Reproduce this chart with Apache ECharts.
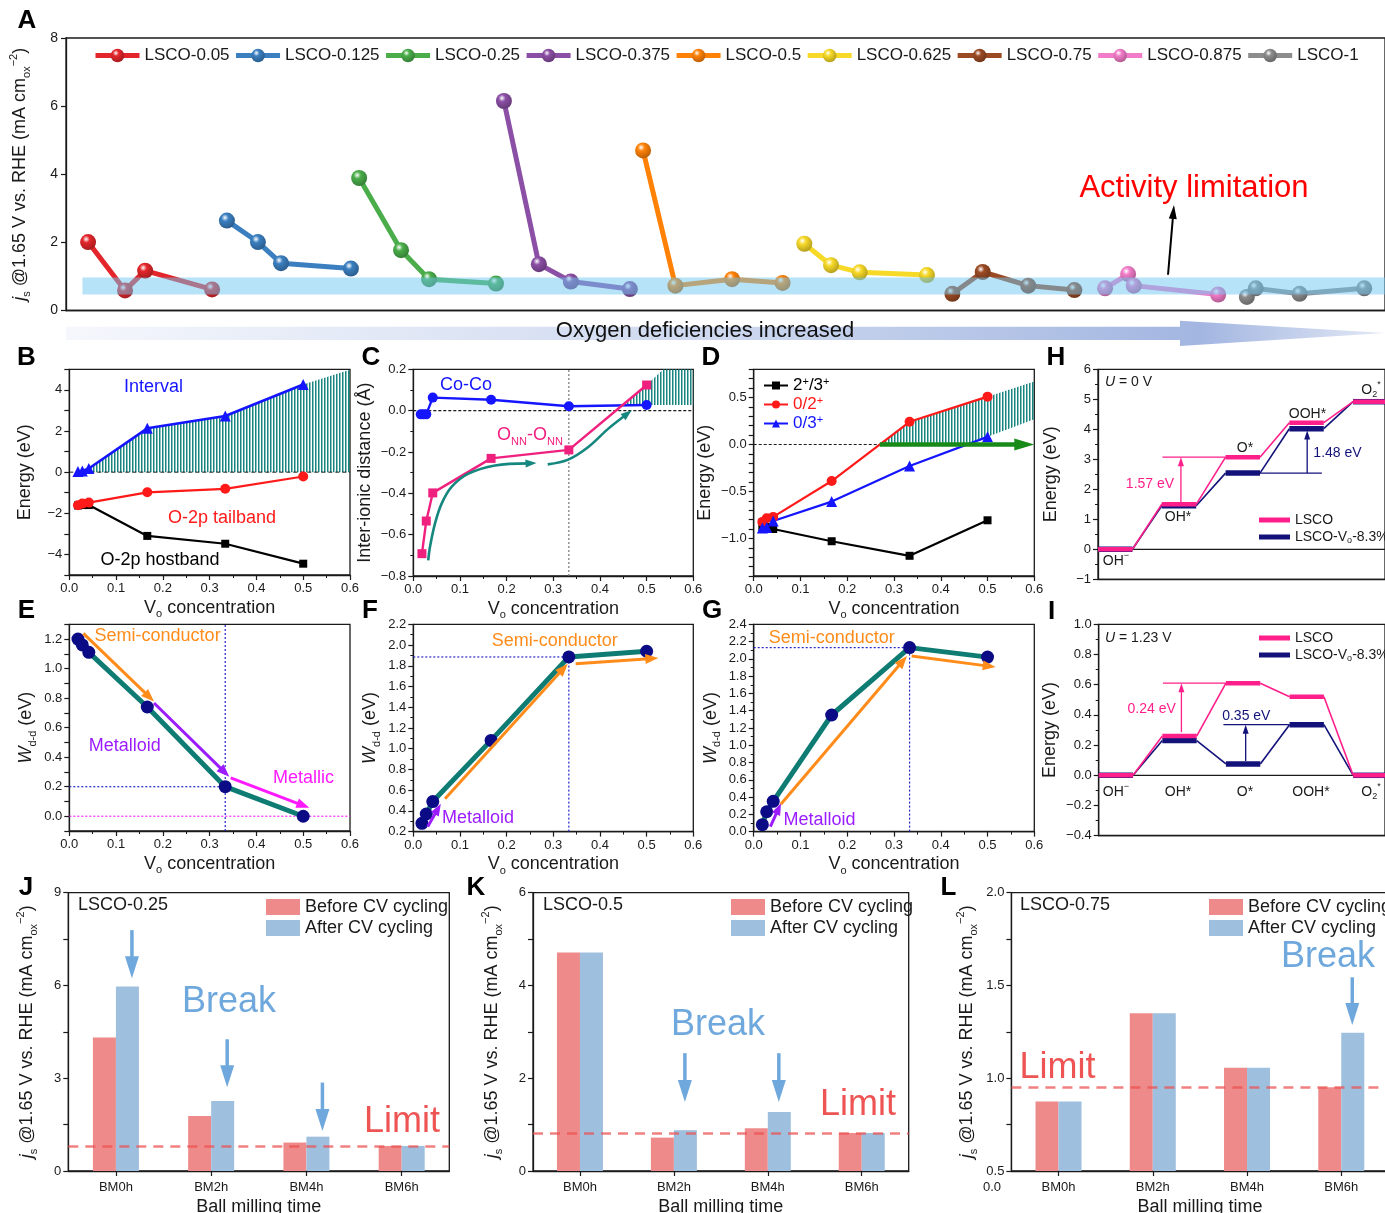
<!DOCTYPE html>
<html><head><meta charset="utf-8">
<script src="https://cdn.jsdelivr.net/npm/echarts@6/dist/echarts.min.js"></script>
<style>html,body{margin:0;padding:0;background:#fff}#c{width:1385px;height:1213px}</style>
</head><body><div id="c"></div>
<script>
const FONT = '"Liberation Sans", Arial, Helvetica, sans-serif';
const INK = '#1a1a1a';

// ================= DATA =================
// Panel A
const aNames = ['LSCO-0.05','LSCO-0.125','LSCO-0.25','LSCO-0.375','LSCO-0.5','LSCO-0.625','LSCO-0.75','LSCO-0.875','LSCO-1'];
const aColors = ['#e3262b','#3b7fc0','#4aad4a','#8b4fa5','#ff8207','#f7d928','#9c4a24','#f27cc8','#8c8c8c'];
const aX = [[0.67,1.79,2.40,4.43],[4.88,5.82,6.52,8.64],[8.89,10.16,11.01,13.04],[13.28,14.34,15.31,17.10],[17.50,18.48,20.20,21.73],[22.39,23.20,24.07,26.11],[26.88,27.80,29.18,30.58],[31.51,32.21,32.38,34.94],[35.81,36.08,37.41,39.37]];
const aY = [[2.01,0.59,1.17,0.62],[2.64,2.01,1.39,1.23],[3.89,1.77,0.92,0.79],[6.15,1.36,0.85,0.63],[4.70,0.73,0.92,0.81],[1.96,1.33,1.12,1.04],[0.49,1.13,0.73,0.60],[0.65,1.07,0.73,0.47],[0.40,0.65,0.49,0.65]];
const aBand = [[0.5, 0.47, 40, 0.97]];
const aLimitArrow = [[33.42, 1.05, 33.6, 3.1]];

// Panels B-G : oxygen vacancy concentration
const vo = [0.0185, 0.0278, 0.0417, 0.1667, 0.3333, 0.5];
const bInterval = [0.03, 0.06, 0.18, 2.13, 2.73, 4.26];
const bTail = [-1.61, -1.53, -1.48, -0.98, -0.81, -0.21];
const bHost = [-1.62, -1.60, -1.60, -3.10, -3.48, -4.45];
const bHatch = [[0.03,0],[0.03,0.05],[0.0417,0.18],[0.1667,2.13],[0.3333,2.73],[0.5,4.26],[0.6,4.98],[0.6,0]];
const bZero = [[0,0,0.6,0]];

const cCoX = [0.016, 0.022, 0.0278, 0.0417, 0.1667, 0.3333, 0.5];
const cCo = [-0.018, -0.018, -0.018, 0.063, 0.053, 0.021, 0.027];
const cOO = [-0.692, -0.534, -0.398, -0.231, -0.19, 0.124];
const cHatch = [[0.4485,0.027],[0.5,0.124],[0.536,0.2],[0.6,0.2],[0.6,0.027]];
const cCurve1 = [[0.032,-0.724],[0.0357,-0.66],[0.0464,-0.547],[0.0607,-0.45],[0.082,-0.369],[0.118,-0.305],[0.175,-0.265],[0.264,-0.253]];
const cCurve2 = [[0.288,-0.26],[0.332,-0.237],[0.375,-0.176],[0.418,-0.087],[0.468,0.002]];
const cZero = [[0,0,0.6,0]];
const cVline = [[0.3333,-0.8,0.3333,0.2]];

const d23 = [-0.88, -0.88, -0.90, -1.03, -1.185, -0.807];
const d02 = [-0.824, -0.785, -0.771, -0.389, 0.241, 0.509];
const d03 = [-0.89, -0.885, -0.814, -0.608, -0.23, 0.081];
const dHatch = [[0.2696,0],[0.3333,0.241],[0.5,0.509],[0.6,0.67],[0.6,0.268],[0.5,0.081],[0.4566,0]];
const dZero = [[0,0,0.2696,0]];
const dArrow = [[0.2696,0,0.6,0]];

const eW = [1.20, 1.16, 1.11, 0.74, 0.20, 0.00];
const eArrowOrange = [[0.030,1.238,0.181,0.777]];
const eArrowPurple = [[0.181,0.767,0.342,0.267]];
const eArrowMagenta = [[0.345,0.26,0.513,0.057]];
const eNavyDots = [[0.3333,-0.1,0.3333,1.3],[0,0.2,0.3333,0.2]];
const eMagentaDots = [[0,0,0.6,0]];

const fW = [0.28, 0.37, 0.49, 1.08, 1.885, 1.94];
const fArrowPurple = [[0.031,0.248,0.059,0.468]];
const fArrowOrange = [[0.068,0.516,0.331,1.819],[0.348,1.819,0.525,1.874]];
const fNavyDots = [[0,1.885,0.3333,1.885],[0.3333,0.2,0.3333,1.885]];

const gW = [0.08, 0.23, 0.35, 1.35, 2.13, 2.02];
const gArrowPurple = [[0.0356,0.058,0.0584,0.329]];
const gArrowOrange = [[0.058,0.317,0.3278,2.032],[0.3378,2.032,0.5174,1.905]];
const gNavyDots = [[0,2.13,0.3333,2.13],[0.3333,0,0.3333,2.13]];

// Panels H, I : free energy diagrams (steps OH-, OH*, O*, OOH*, O2*)
const hLSCO = [0, 1.50, 3.07, 4.22, 4.92];
const hVo   = [0, 1.45, 2.54, 4.02, 4.92];
const iLSCO = [0, 0.26, 0.61, 0.52, 0];
const iVo   = [0, 0.23, 0.075, 0.335, 0];
const hPinkLine = [[1.01,3.07,2.0,3.07]];
const hPinkArrow = [[1.30,1.55,1.30,3.07]];
const hNavyLine = [[2.54,2.54,3.51,2.54]];
const hNavyArrow = [[3.28,2.54,3.28,3.96]];
const iPinkLine = [[1.01,0.61,2.0,0.61]];
const iPinkArrow = [[1.30,0.285,1.30,0.61]];
const iNavyLine = [[1.96,0.335,3.0,0.335]];
const iNavyArrow = [[2.31,0.095,2.31,0.335]];
const stepZero = [[0.54,0,4.5,0]];

// Panels J, K, L : bars
const bmCats = ['BM0h','BM2h','BM4h','BM6h'];
const jBefore = [4.32, 1.78, 0.92, 0.81];
const jAfter  = [5.97, 2.26, 1.11, 0.81];
const jLimit = 0.81;
const jBreak = [['BM0h',7.79,6.23],['BM2h',4.26,2.71],['BM4h',2.86,1.29]];
const kBefore = [4.71, 0.72, 0.92, 0.82];
const kAfter  = [4.71, 0.88, 1.27, 0.82];
const kLimit = 0.82;
const kBreak = [['BM2h',2.54,1.49],['BM4h',2.54,1.49]];
const lBefore = [0.874, 1.35, 1.057, 0.951];
const lAfter  = [0.874, 1.35, 1.057, 1.245];
const lLimit = 0.95;
const lBreak = [['BM6h',1.544,1.287]];

// ================= HELPERS =================
const grids = [], xAxes = [], yAxes = [], series = [], graphics = [], legends = [];
const G = {};
function rich(fs){
  const s = Math.round(fs*0.62);
  return {
    i:{fontStyle:'italic', fontSize:fs, fontFamily:FONT},
    sub:{fontSize:s, fontFamily:FONT, verticalAlign:'bottom', lineHeight:s+1},
    sup:{fontSize:s, fontFamily:FONT, verticalAlign:'top', lineHeight:s+1}
  };
}
function fmt(dec, step){
  return function(v){
    if (step && Math.abs(v/step - Math.round(v/step)) > 1e-6) return '';
    const r = Math.abs(v) < 1e-9 ? 0 : v;
    return (r < 0 ? '\u2212' : '') + Math.abs(r).toFixed(dec);
  };
}
function addGrid(key, left, top, width, height){
  grids.push({left, top, width, height, show:true, borderColor:INK, borderWidth:1.3,
    backgroundColor:'rgba(0,0,0,0)', containLabel:false, outerBoundsMode:'none'});
  G[key] = grids.length - 1;
}
function mkAxis(gi, o, dir){
  const nfs = o.nfs || 18;
  const a = {
    gridIndex:gi, type:o.type || 'value', position: dir === 'x' ? 'bottom' : 'left',
    axisLine:{show:true, onZero:false, lineStyle:{color:INK, width:1.3}},
    axisTick:{show:o.tick !== false, inside:false, length:5, alignWithLabel:true, lineStyle:{color:INK, width:1.2}},
    minorTick:{show:!!o.minor, splitNumber:o.minor || 2, length:3, lineStyle:{color:INK, width:1}},
    splitLine:{show:false}, minorSplitLine:{show:false},
    axisLabel:{show:o.label !== false, color:INK, fontSize:o.fs || 13, fontFamily:FONT, margin:o.margin || 6,
      hideOverlap:false, showMinLabel:true, showMaxLabel:true},
    name:o.name || '', nameLocation:'middle', nameGap:o.gap || 20,
    nameTextStyle:{fontSize:nfs, fontFamily:FONT, color:INK, lineHeight:24, rich:rich(nfs)}
  };
  if (o.fmt) a.axisLabel.formatter = o.fmt;
  if (o.type === 'category') { a.data = o.data; a.boundaryGap = true; }
  else { a.min = o.min; a.max = o.max; if (o.interval) a.interval = o.interval; }
  return a;
}
function addAxes(gi, xo, yo){ xAxes.push(mkAxis(gi, xo, 'x')); yAxes.push(mkAxis(gi, yo, 'y')); }
function voAxis(){ return {min:0, max:0.6, interval:0.1, fmt:fmt(1), minor:2, name:'V{sub|o} concentration', gap:20, margin:7}; }

function arrowShape(p1, p2, st){
  const dx = p2[0]-p1[0], dy = p2[1]-p1[1], L = Math.hypot(dx, dy) || 1, ux = dx/L, uy = dy/L;
  const hl = st.head || 0, hw = st.headW || hl*0.7;
  const e = hl ? [p2[0]-ux*hl*0.7, p2[1]-uy*hl*0.7] : p2;
  const ch = [{type:'line', shape:{x1:p1[0], y1:p1[1], x2:e[0], y2:e[1]},
    style:{stroke:st.color, lineWidth:st.width, lineDash:st.dash, lineCap:'butt', fill:null}}];
  if (hl) {
    const bx = p2[0]-ux*hl, by = p2[1]-uy*hl;
    ch.push({type:'polygon', shape:{points:[[p2[0],p2[1]],[bx-uy*hw/2, by+ux*hw/2],[bx+uy*hw/2, by-ux*hw/2]]},
      style:{fill:st.color, stroke:null}});
  }
  return ch;
}
function segSeries(gi, segs, st){
  return {type:'custom', xAxisIndex:gi, yAxisIndex:gi, z:st.z || 5, silent:true, data:segs,
    renderItem:(p, api) => {
      const p1 = api.coord([api.value(0), api.value(1)]), p2 = api.coord([api.value(2), api.value(3)]);
      return {type:'group', children:arrowShape(p1, p2, st)};
    }};
}
function catArrowSeries(gi, arr, offset, st){
  return {type:'custom', xAxisIndex:gi, yAxisIndex:gi, z:6, silent:true, data:arr,
    renderItem:(p, api) => {
      const a = api.coord([api.value(0), api.value(1)]), b = api.coord([api.value(0), api.value(2)]);
      a[0] += offset; b[0] += offset;
      return {type:'group', children:arrowShape(a, b, st)};
    }};
}
function curveSeries(gi, pts, st){
  return {type:'custom', xAxisIndex:gi, yAxisIndex:gi, z:5, silent:true, data:[pts[0]],
    renderItem:(p, api) => {
      const P = pts.map(q => api.coord(q)); const n = P.length;
      const last = P[n-1], prev = P[n-2];
      const dx = last[0]-prev[0], dy = last[1]-prev[1], L = Math.hypot(dx, dy) || 1, ux = dx/L, uy = dy/L;
      const hl = st.head, hw = st.headW;
      const e = [last[0]-ux*hl*0.7, last[1]-uy*hl*0.7];
      const bx = last[0]-ux*hl, by = last[1]-uy*hl;
      return {type:'group', children:[
        {type:'polyline', shape:{points:P.slice(0, n-1).concat([e]), smooth:0.35}, style:{stroke:st.color, lineWidth:st.width, fill:null}},
        {type:'polygon', shape:{points:[last,[bx-uy*hw/2, by+ux*hw/2],[bx+uy*hw/2, by-ux*hw/2]]}, style:{fill:st.color}}
      ]};
    }};
}
function polySeries(gi, pts, fill, z){
  return {type:'custom', xAxisIndex:gi, yAxisIndex:gi, z:z || 1, silent:true, data:[pts[0]],
    renderItem:(p, api) => ({type:'polygon', shape:{points:pts.map(q => api.coord(q))}, style:{fill}})};
}
function lineS(gi, name, xs, ys, color, symbol, size, width, z, symColor){
  return {type:'line', name, xAxisIndex:gi, yAxisIndex:gi, z:z || 3, silent:true,
    data:xs.map((x, i) => [x, ys[i]]), symbol, symbolSize:size, showSymbol:true,
    lineStyle:{color, width}, itemStyle:{color:symColor || color}};
}
const LEVEL_W = 0.54, STEP_XMAX = 4.5;
function stepSeries(gi, name, levels, color, thick, z){
  return {type:'custom', name, xAxisIndex:gi, yAxisIndex:gi, z, silent:true, itemStyle:{color},
    data:levels.map((v, i) => [i, v]),
    renderItem:(p, api) => {
      const i = api.value(0), v = api.value(1);
      const a = api.coord([i, v]), b = api.coord([Math.min(i + LEVEL_W, STEP_XMAX), v]);
      const ch = [{type:'line', shape:{x1:a[0], y1:a[1], x2:b[0], y2:b[1]}, style:{stroke:color, lineWidth:thick, lineCap:'butt'}}];
      if (i < levels.length - 1) {
        const c = api.coord([i + 1, levels[i + 1]]);
        ch.push({type:'line', shape:{x1:b[0], y1:b[1], x2:c[0], y2:c[1]}, style:{stroke:color, lineWidth:1.6}});
      }
      return {type:'group', children:ch};
    }};
}
function shade(hex, f){
  const n = parseInt(hex.slice(1), 16);
  return 'rgb(' + Math.round((n>>16)*f) + ',' + Math.round(((n>>8)&255)*f) + ',' + Math.round((n&255)*f) + ')';
}
function ball(c){
  return {type:'radial', x:0.38, y:0.32, r:0.75,
    colorStops:[{offset:0, color:'#ffffff'},{offset:0.3, color:c},{offset:1, color:shade(c, 0.7)}]};
}
function T(x, y, text, fs, color, extra){
  graphics.push({type:'text', x, y, z:100, silent:true,
    style:Object.assign({text, fontSize:fs, fontFamily:FONT, fill:color || INK, align:'center',
      verticalAlign:'middle', lineHeight:Math.round(fs*1.35), rich:rich(fs)}, extra || {})});
}
const HATCH = (function(){
  const c = document.createElement('canvas'); c.width = 3; c.height = 4;
  const g = c.getContext('2d'); g.fillStyle = 'rgba(12,128,120,0.95)'; g.fillRect(0, 0, 1.5, 4);
  return {image:c, repeat:'repeat'};
})();

const BLUE = '#1515ff', RED = '#ff1a1a', MAG = '#f0207f', TEAL = '#0f7c74', NAVY = '#0b0b86';
const ORANGE = '#ff8c1a', PURPLE = '#9b1dff', PINKM = '#ff19ff', PINK = '#ff1f8a', DNAVY = '#12127a';

// ================= PANEL A =================
addGrid('A', 66, 38, 1319, 272.5);
addAxes(G.A, {min:0, max:40, tick:false, label:false},
  {min:0, max:8, interval:2, fs:14, fmt:fmt(0), margin:8,
   name:'{i|j}{sub|s} @1.65 V vs. RHE (mA cm{sub|ox}{sup|\u22122})', gap:34});
aNames.forEach((n, k) => {
  series.push({type:'line', name:n, xAxisIndex:G.A, yAxisIndex:G.A, z:3, silent:true,
    data:aX[k].map((x, i) => [x, aY[k][i]]), symbol:'circle', symbolSize:16,
    lineStyle:{color:aColors[k], width:5}, itemStyle:{color:ball(aColors[k])}});
});
series.push({type:'custom', xAxisIndex:G.A, yAxisIndex:G.A, z:4, silent:true, data:aBand,
  renderItem:(p, api) => {
    const a = api.coord([api.value(0), api.value(3)]), b = api.coord([api.value(2), api.value(1)]);
    return {type:'rect', shape:{x:a[0], y:a[1], width:b[0]-a[0], height:b[1]-a[1]}, style:{fill:'rgba(110,200,242,0.5)'}};
  }});
series.push(segSeries(G.A, aLimitArrow, {color:'#000', width:2, head:14, headW:8, z:6}));
legends.push({left:88, top:42, width:1295, orient:'horizontal', itemWidth:44, itemHeight:17, itemGap:4,
  selectedMode:false, data:aNames, lineStyle:{width:5},
  textStyle:{fontSize:17, fontFamily:FONT, color:INK}});

// ================= PANEL B =================
addGrid('B', 69.3, 369.3, 280.7, 205.7);
addAxes(G.B, voAxis(), {min:-5, max:5, interval:1, fmt:fmt(0, 2), margin:7, name:'Energy (eV)', gap:32});
series.push(polySeries(G.B, bHatch, HATCH, 1));
series.push(segSeries(G.B, bZero, {color:INK, width:1, dash:[4,3], z:2}));
series.push(lineS(G.B, 'hostband', vo, bHost, '#000', 'rect', 8, 2.2));
series.push(lineS(G.B, 'tailband', vo, bTail, RED, 'circle', 10, 2.2));
series.push(lineS(G.B, 'interval', vo, bInterval, BLUE, 'triangle', 11, 2.6));

// ================= PANEL C =================
addGrid('C', 413.3, 369.3, 280, 206.7);
addAxes(G.C, voAxis(), {min:-0.8, max:0.2, interval:0.2, fmt:fmt(1), minor:2, margin:7, name:'Inter-ionic distance (\u00c5)', gap:32});
series.push(polySeries(G.C, cHatch, HATCH, 1));
series.push(segSeries(G.C, cZero, {color:INK, width:1.2, dash:[3,2], z:2}));
series.push(segSeries(G.C, cVline, {color:'#777', width:1.2, dash:[2,2], z:2}));
series.push(lineS(G.C, 'CoCo', cCoX, cCo, BLUE, 'circle', 10, 2.4));
series.push(lineS(G.C, 'ONN', vo, cOO, MAG, 'rect', 9, 2.4));
series.push(curveSeries(G.C, cCurve1, {color:'#16877f', width:2.6, head:11, headW:8}));
series.push(curveSeries(G.C, cCurve2, {color:'#16877f', width:2.6, head:11, headW:8}));

// ================= PANEL D =================
addGrid('D', 753.7, 369.3, 280.6, 206.7);
addAxes(G.D, voAxis(), {min:-1.4, max:0.8, interval:0.1, fmt:fmt(1, 0.5), margin:7, name:'Energy (eV)', gap:32});
series.push(polySeries(G.D, dHatch, HATCH, 1));
series.push(segSeries(G.D, dZero, {color:INK, width:1.1, dash:[3,2], z:2}));
series.push(lineS(G.D, '2+/3+', vo, d23, '#000', 'rect', 8, 2.2));
series.push(lineS(G.D, '0/2+', vo, d02, RED, 'circle', 10, 2.2));
series.push(lineS(G.D, '0/3+', vo, d03, BLUE, 'triangle', 11, 2.2));
series.push(segSeries(G.D, dArrow, {color:'#178a17', width:4.5, head:20, headW:12, z:6}));
legends.push({left:758, top:371, orient:'vertical', itemWidth:24, itemHeight:10, itemGap:0, selectedMode:false,
  data:[{name:'2+/3+', textStyle:{color:'#000'}},{name:'0/2+', textStyle:{color:RED}},{name:'0/3+', textStyle:{color:BLUE}}],
  formatter:n => ({'2+/3+':'2{sup|+}/3{sup|+}', '0/2+':'0/2{sup|+}', '0/3+':'0/3{sup|+}'})[n],
  textStyle:{fontSize:17, fontFamily:FONT, lineHeight:19, rich:rich(17)}});

// ================= PANEL H =================
addGrid('H', 1098, 369.3, 287, 210);
addAxes(G.H, {min:0, max:4.5, tick:false, label:false},
  {min:-1, max:6, interval:1, fmt:fmt(0), minor:2, margin:7, name:'Energy (eV)', gap:35});
series.push(segSeries(G.H, stepZero, {color:INK, width:1.2, z:2}));
series.push(stepSeries(G.H, 'LSCO-Vo-8.3%', hVo, DNAVY, 5.5, 3));
series.push(stepSeries(G.H, 'LSCO', hLSCO, PINK, 4.5, 4));
series.push(segSeries(G.H, hPinkLine, {color:PINK, width:1.3}));
series.push(segSeries(G.H, hPinkArrow, {color:PINK, width:1.3, head:9, headW:6}));
series.push(segSeries(G.H, hNavyLine, {color:DNAVY, width:1.3}));
series.push(segSeries(G.H, hNavyArrow, {color:DNAVY, width:1.3, head:9, headW:6}));
const stepLegend = (top) => ({left:1254, top, orient:'vertical', icon:'rect', itemWidth:31, itemHeight:5, itemGap:1,
  selectedMode:false, data:['LSCO','LSCO-Vo-8.3%'],
  formatter:n => n === 'LSCO' ? 'LSCO' : 'LSCO-V{sub|o}-8.3%',
  textStyle:{fontSize:14, fontFamily:FONT, color:INK, lineHeight:16, rich:rich(14)}});
legends.push(stepLegend(507));

// ================= PANEL E =================
addGrid('E', 69.3, 624.3, 280.7, 206.7);
addAxes(G.E, voAxis(), {min:-0.1, max:1.3, interval:0.1, fmt:fmt(1, 0.2), margin:7, name:'{i|W}{sub|d-d} (eV)', gap:31});
series.push(segSeries(G.E, eNavyDots, {color:'#2323c8', width:1.2, dash:[2,2], z:2}));
series.push(segSeries(G.E, eMagentaDots, {color:'#ff22ff', width:1.2, dash:[2,2], z:2}));
series.push(lineS(G.E, 'eW', vo, eW, TEAL, 'circle', 13, 5, 3, NAVY));
series.push(segSeries(G.E, eArrowOrange, {color:ORANGE, width:3, head:13, headW:10}));
series.push(segSeries(G.E, eArrowPurple, {color:PURPLE, width:3, head:13, headW:10}));
series.push(segSeries(G.E, eArrowMagenta, {color:PINKM, width:3, head:13, headW:10}));

// ================= PANEL F =================
addGrid('F', 413.3, 624.3, 280, 207.3);
addAxes(G.F, voAxis(), {min:0.2, max:2.2, interval:0.2, fmt:fmt(1), minor:2, margin:7, name:'{i|W}{sub|d-d} (eV)', gap:31});
series.push(segSeries(G.F, fNavyDots, {color:'#2323c8', width:1.2, dash:[2,2], z:2}));
series.push(lineS(G.F, 'fW', vo, fW, TEAL, 'circle', 13, 5, 3, NAVY));
series.push(segSeries(G.F, fArrowPurple, {color:PURPLE, width:3, head:12, headW:9}));
series.push(segSeries(G.F, fArrowOrange, {color:ORANGE, width:3, head:13, headW:10}));

// ================= PANEL G =================
addGrid('Gp', 753.7, 624.3, 280.6, 207.3);
addAxes(G.Gp, voAxis(), {min:0, max:2.4, interval:0.2, fmt:fmt(1), minor:2, margin:7, name:'{i|W}{sub|d-d} (eV)', gap:31});
series.push(segSeries(G.Gp, gNavyDots, {color:'#2323c8', width:1.2, dash:[2,2], z:2}));
series.push(lineS(G.Gp, 'gW', vo, gW, TEAL, 'circle', 13, 5, 3, NAVY));
series.push(segSeries(G.Gp, gArrowPurple, {color:PURPLE, width:3, head:12, headW:9}));
series.push(segSeries(G.Gp, gArrowOrange, {color:ORANGE, width:3, head:13, headW:10}));

// ================= PANEL I =================
addGrid('I', 1098.7, 624.3, 286.3, 211.4);
addAxes(G.I, {min:0, max:4.5, tick:false, label:false},
  {min:-0.4, max:1.0, interval:0.2, fmt:fmt(1), minor:2, margin:7, name:'Energy (eV)', gap:35});
series.push(segSeries(G.I, stepZero, {color:INK, width:1.2, z:2}));
series.push(stepSeries(G.I, 'LSCO-Vo-8.3%', iVo, DNAVY, 5.5, 3));
series.push(stepSeries(G.I, 'LSCO', iLSCO, PINK, 4.5, 4));
series.push(segSeries(G.I, iPinkLine, {color:PINK, width:1.3}));
series.push(segSeries(G.I, iPinkArrow, {color:PINK, width:1.3, head:9, headW:6}));
series.push(segSeries(G.I, iNavyLine, {color:DNAVY, width:1.3}));
series.push(segSeries(G.I, iNavyArrow, {color:DNAVY, width:1.3, head:9, headW:6}));
legends.push(stepLegend(625));

// ================= PANELS J, K, L =================
const BAR_RED = '#ef8a8a', BAR_BLUE = '#9ebfdd', ARROW_BLUE = '#6fa8dc';
function barPanel(key, left, width, yo, before, after, limit, breaks, offset, legendLeft){
  addGrid(key, left, 892.7, width, 278.3);
  const gi = G[key];
  addAxes(gi, {type:'category', data:bmCats, fs:13, margin:10, name:'Ball milling time', gap:20}, yo);
  series.push({type:'bar', name:'Before CV cycling', xAxisIndex:gi, yAxisIndex:gi, data:before, barWidth:23, barGap:'0%',
    itemStyle:{color:BAR_RED}, z:2, silent:true});
  series.push({type:'bar', name:'After CV cycling', xAxisIndex:gi, yAxisIndex:gi, data:after, barWidth:23, barGap:'0%',
    itemStyle:{color:BAR_BLUE}, z:2, silent:true,
    markLine:{silent:true, symbol:'none', z:5, label:{show:false},
      lineStyle:{type:[10,7], color:'rgba(236,80,80,0.72)', width:2.5}, data:[{yAxis:limit}]}});
  series.push(catArrowSeries(gi, breaks, offset, {color:ARROW_BLUE, width:3.5, head:22, headW:14}));
  legends.push({left:legendLeft, top:893, orient:'vertical', icon:'rect', itemWidth:34, itemHeight:16, itemGap:3,
    selectedMode:false, data:['Before CV cycling','After CV cycling'],
    textStyle:{fontSize:18, fontFamily:FONT, color:INK, lineHeight:16}});
}
const jsName = '{i|j}{sub|s} @1.65 V vs. RHE (mA cm{sub|ox}{sup|\u22122})';
barPanel('J', 68.3, 381, {min:0, max:9, interval:1.5, fmt:fmt(0, 3), margin:7, name:jsName, gap:29},
  jBefore, jAfter, jLimit, jBreak, 16, 261);
barPanel('K', 533, 375.7, {min:0, max:6, interval:1, fmt:fmt(0, 2), margin:7, name:jsName, gap:29},
  kBefore, kAfter, kLimit, kBreak, 11, 726);
barPanel('L', 1011.4, 377, {min:0.5, max:2.0, interval:0.25, fmt:fmt(1, 0.5), margin:7, name:jsName, gap:32},
  lBefore, lAfter, lLimit, lBreak, 11, 1204);

// ================= TEXT / DECORATION =================
graphics.push({type:'polygon', z:0, silent:true,
  shape:{points:[[66,326.7],[1180,326.7],[1180,320.7],[1385,333],[1180,346],[1180,340],[66,340]]},
  style:{fill:{type:'linear', x:0, y:0, x2:1, y2:0,
    colorStops:[{offset:0, color:'#f5f7fc'},{offset:0.5, color:'#cdd8ef'},{offset:0.86, color:'#a3b6e1'},{offset:1, color:'#e2e8f5'}]}}});
T(705, 331, 'Oxygen deficiencies increased', 22, '#111');
T(1194, 188, 'Activity limitation', 31, '#ff0000');

const letters = [['A',27,21],['B',26.5,357.5],['C',371,357.5],['D',711,357.5],['H',1056,357.5],
  ['E',26.5,611],['F',370,611],['G',712,611],['I',1051.5,612],['J',26,887.5],['K',476,887.5],['L',948.5,887.5]];
letters.forEach(l => T(l[1], l[2], l[0], 26, '#000', {fontWeight:'bold'}));

T(153.5, 387, 'Interval', 18, BLUE);
T(222, 518, 'O-2p tailband', 18, RED);
T(160, 560, 'O-2p hostband', 18, '#000');
T(466, 385, 'Co-Co', 18, BLUE);
T(530, 435, 'O{sub|NN}-O{sub|NN}', 18, MAG);

T(1105, 382, '{i|U} = 0 V', 14, INK, {align:'left'});
T(1116, 561, 'OH{sup|\u2212}', 14);
T(1178, 517, 'OH*', 14);
T(1245, 448, 'O*', 14);
T(1307.5, 414, 'OOH*', 14);
T(1371, 390, 'O{sub|2}{sup|*}', 14);
T(1150, 484, '1.57 eV', 14, PINK);
T(1337.5, 453, '1.48 eV', 14, DNAVY);

T(157.6, 636, 'Semi-conductor', 18, ORANGE);
T(124.7, 746, 'Metalloid', 18, PURPLE);
T(303.5, 778, 'Metallic', 18, PINKM);
T(554.7, 641, 'Semi-conductor', 18, ORANGE);
T(478, 818, 'Metalloid', 18, PURPLE);
T(831.8, 638, 'Semi-conductor', 18, ORANGE);
T(819.5, 820, 'Metalloid', 18, PURPLE);

T(1105, 638, '{i|U} = 1.23 V', 14, INK, {align:'left'});
T(1151.7, 709, '0.24 eV', 14, PINK);
T(1246.3, 716.5, '0.35 eV', 14, DNAVY);
T(1116, 792, 'OH{sup|\u2212}', 14);
T(1178, 792, 'OH*', 14);
T(1245, 792, 'O*', 14);
T(1311, 792, 'OOH*', 14);
T(1371, 792, 'O{sub|2}{sup|*}', 14);

T(78, 905, 'LSCO-0.25', 18, INK, {align:'left'});
T(229, 1002, 'Break', 36, ARROW_BLUE);
T(402, 1122, 'Limit', 36, '#ee5454');
T(543, 905, 'LSCO-0.5', 18, INK, {align:'left'});
T(718, 1025, 'Break', 36, ARROW_BLUE);
T(858, 1105, 'Limit', 36, '#ee5454');
T(1020, 905, 'LSCO-0.75', 18, INK, {align:'left'});
T(1328, 957, 'Break', 36, ARROW_BLUE);
T(1057.5, 1068, 'Limit', 36, '#ee5454');
T(992, 1187, '0.0', 13);

const chart = echarts.init(document.getElementById('c'), null, {renderer:'canvas', width:1385, height:1213});
chart.setOption({
  animation:false, backgroundColor:'#ffffff',
  textStyle:{fontFamily:FONT},
  grid:grids, xAxis:xAxes, yAxis:yAxes, legend:legends, series, graphic:graphics
});
</script></body></html>
